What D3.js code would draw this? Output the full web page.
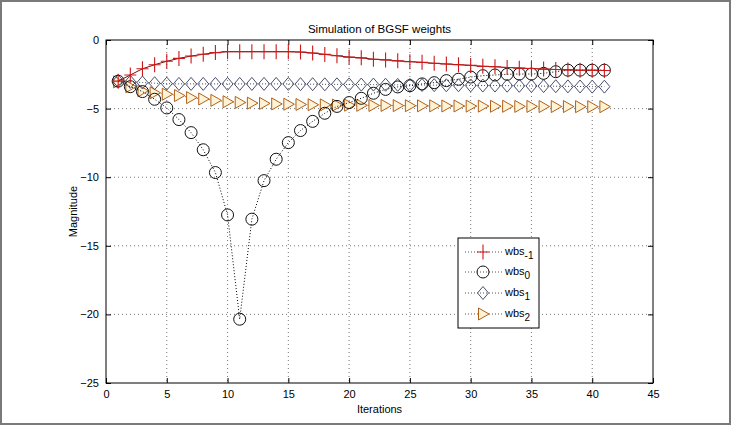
<!DOCTYPE html>
<html>
<head>
<meta charset="utf-8">
<script src="https://cdn.jsdelivr.net/npm/d3@7"></script>
<style>
html,body{margin:0;padding:0;background:#fff;}
svg{display:block;font-family:"Liberation Sans",Arial,sans-serif;}
</style>
</head>
<body>
<svg id="chart" width="735" height="426"></svg>
<script>
const iterations = [1,2,3,4,5,6,7,8,9,10,11,12,13,14,15,16,17,18,19,20,21,22,23,24,25,26,27,28,29,30,31,32,33,34,35,36,37,38,39,40,41];
const wbsM1 = [-3.0,-2.55,-2.1,-1.8,-1.55,-1.34,-1.17,-1.04,-0.92,-0.85,-0.85,-0.85,-0.85,-0.85,-0.85,-0.88,-0.95,-1.05,-1.15,-1.25,-1.3,-1.4,-1.45,-1.52,-1.58,-1.63,-1.7,-1.75,-1.8,-1.85,-1.92,-1.95,-2.0,-2.05,-2.08,-2.12,-2.15,-2.18,-2.2,-2.2,-2.22];
const wbs0 = [-3.0,-3.4,-3.76,-4.32,-4.95,-5.8,-6.75,-8.0,-9.66,-12.75,-20.35,-13.06,-10.25,-8.69,-7.48,-6.6,-5.93,-5.34,-4.84,-4.56,-4.25,-3.88,-3.6,-3.42,-3.33,-3.2,-3.11,-2.96,-2.86,-2.7,-2.6,-2.55,-2.5,-2.48,-2.48,-2.43,-2.31,-2.2,-2.2,-2.2,-2.2];
const wbs1 = [-3.0,-3.05,-3.1,-3.15,-3.18,-3.2,-3.2,-3.2,-3.2,-3.2,-3.2,-3.2,-3.2,-3.2,-3.2,-3.22,-3.22,-3.23,-3.23,-3.24,-3.25,-3.25,-3.26,-3.27,-3.28,-3.28,-3.29,-3.3,-3.3,-3.31,-3.32,-3.32,-3.33,-3.34,-3.35,-3.36,-3.37,-3.38,-3.39,-3.4,-3.4];
const wbs2 = [-3.05,-3.4,-3.7,-3.85,-3.95,-4.05,-4.2,-4.3,-4.4,-4.5,-4.55,-4.6,-4.62,-4.66,-4.68,-4.7,-4.72,-4.73,-4.74,-4.75,-4.76,-4.77,-4.77,-4.78,-4.79,-4.8,-4.8,-4.81,-4.81,-4.82,-4.82,-4.83,-4.83,-4.84,-4.84,-4.85,-4.85,-4.85,-4.86,-4.86,-4.86];
const xTicks = [0,5,10,15,20,25,30,35,40,45];
const yTicks = [0,-5,-10,-15,-20,-25];
const seriesNames = ["-1","0","1","2"];
const titleText = "Simulation of BGSF weights";
const xLabel = "Iterations";
const yLabel = "Magnitude";

const svg = d3.select("#chart");
svg.append("rect").attr("x",1).attr("y",1).attr("width",729).attr("height",423)
  .attr("fill","#fff").attr("stroke","#7a7a7a").attr("stroke-width",2);

const L=106, R=653, T=40, B=383;
const x = d3.scaleLinear().domain([0,45]).range([L,R]);
const y = d3.scaleLinear().domain([-25,0]).range([B,T]);

const g = svg.append("g");
g.selectAll(".gx").data(xTicks.filter(d=>d>0&&d<45)).join("line")
  .attr("x1",d=>x(d)).attr("x2",d=>x(d)).attr("y1",T).attr("y2",B)
  .attr("stroke","#555").attr("stroke-width",0.8).attr("stroke-dasharray","1,3");
g.selectAll(".gy").data(yTicks.filter(d=>d<0&&d>-25)).join("line")
  .attr("y1",d=>y(d)).attr("y2",d=>y(d)).attr("x1",L).attr("x2",R)
  .attr("stroke","#555").attr("stroke-width",0.8).attr("stroke-dasharray","1,3");

const xAxisB = d3.axisBottom(x).tickValues(xTicks).tickSize(-5).tickPadding(7);
const xAxisT = d3.axisTop(x).tickValues(xTicks).tickSize(-5).tickFormat("");
const yAxisL = d3.axisLeft(y).tickValues(yTicks).tickSize(-5).tickPadding(7);
const yAxisR = d3.axisRight(y).tickValues(yTicks).tickSize(-5).tickFormat("");
function styleAxis(sel){
  sel.select(".domain").remove();
  sel.selectAll("line").attr("stroke","#000");
  sel.selectAll("text").attr("fill","#000").attr("font-size",11).attr("font-family","'Liberation Sans',Arial,sans-serif");
}
svg.append("g").attr("transform",`translate(0,${B})`).call(xAxisB).call(styleAxis);
svg.append("g").attr("transform",`translate(0,${T})`).call(xAxisT).call(styleAxis);
svg.append("g").attr("transform",`translate(${L},0)`).call(yAxisL).call(styleAxis)
  .selectAll("text").attr("dy","0.32em");
svg.append("g").attr("transform",`translate(${R},0)`).call(yAxisR).call(styleAxis);
svg.append("rect").attr("x",L).attr("y",T).attr("width",R-L).attr("height",B-T)
  .attr("fill","none").attr("stroke","#000").attr("stroke-width",1);

svg.append("text").attr("x",(L+R)/2).attr("y",33).attr("text-anchor","middle")
  .attr("font-size",11.5).text(titleText);
svg.append("text").attr("x",(L+R)/2).attr("y",413).attr("text-anchor","middle")
  .attr("font-size",11).text(xLabel);
svg.append("text").attr("transform",`translate(77,${(T+B)/2}) rotate(-90)`).attr("text-anchor","middle")
  .attr("font-size",11).text(yLabel);

const mk = {
  plus:(sel,color)=>sel.append("path").attr("d","M-6,0H6M0,-7.5V7.5").attr("stroke",color).attr("stroke-width",1.1).attr("fill","none"),
  circle:(sel,color)=>sel.append("circle").attr("r",6).attr("fill","none").attr("stroke",color).attr("stroke-width",1),
  diamond:(sel,color)=>sel.append("path").attr("d","M0,-6.5L5.5,0L0,6.5L-5.5,0Z").attr("fill","none").attr("stroke",color).attr("stroke-width",1),
  tri:(sel,color)=>sel.append("path").attr("d","M-4.5,-6L6,0L-4.5,6Z").attr("fill","#fff3d6").attr("stroke",color).attr("stroke-width",1)
};
const series = [
  {vals:wbsM1, line:"#701010", dash:null, color:"#cc1818", m:"plus"},
  {vals:wbs0, line:"#000", dash:"1,2", color:"#111", m:"circle"},
  {vals:wbs1, line:"#444", dash:"1,2", color:"#4a5070", m:"diamond"},
  {vals:wbs2, line:"#a06020", dash:"1,2", color:"#b0601a", m:"tri"}
];
const lineGen = d3.line().x(d=>x(d[0])).y(d=>y(d[1]));
series.slice().reverse().forEach(s=>{
  const pts = iterations.map((it,i)=>[it,s.vals[i]]);
  svg.append("path").datum(pts).attr("d",lineGen).attr("fill","none")
    .attr("stroke",s.line).attr("stroke-width",1).attr("stroke-dasharray",s.dash);
  const gm = svg.append("g");
  pts.forEach(p=>{
    const gg = gm.append("g").attr("transform",`translate(${x(p[0])},${y(p[1])})`);
    mk[s.m](gg,s.color);
  });
});

const lg = svg.append("g");
lg.append("rect").attr("x",458).attr("y",238).attr("width",81).attr("height",90)
  .attr("fill","#fff").attr("stroke","#000").attr("stroke-width",1);
const legY = [252,272,293,314];
series.forEach((s,i)=>{
  lg.append("line").attr("x1",465).attr("x2",502).attr("y1",legY[i]).attr("y2",legY[i])
    .attr("stroke","#555").attr("stroke-dasharray","1,2");
  const gg = lg.append("g").attr("transform",`translate(483,${legY[i]})`);
  mk[s.m](gg,s.color);
  const t = lg.append("text").attr("x",505).attr("y",legY[i]+3).attr("font-size",11);
  t.append("tspan").text("wbs");
  t.append("tspan").attr("dy",4).attr("font-size",10).text(seriesNames[i]);
});
</script>
</body>
</html>
